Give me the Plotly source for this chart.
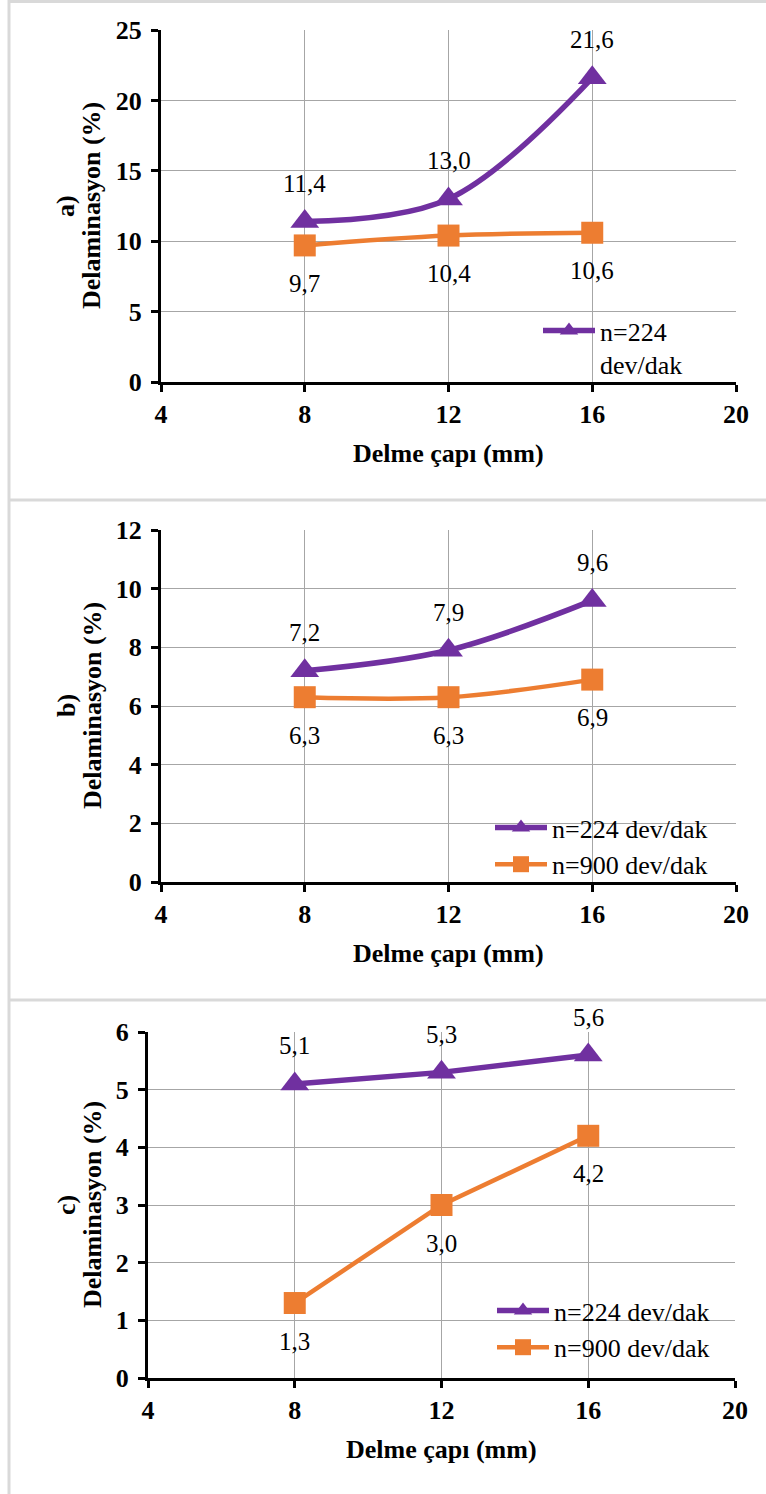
import plotly.graph_objects as go

# ---------------- data ----------------
diameters = [8, 12, 16]
x_ticks = [4, 8, 12, 16, 20]

a_224 = [11.4, 13.0, 21.6]
a_900 = [9.7, 10.4, 10.6]
b_224 = [7.2, 7.9, 9.6]
b_900 = [6.3, 6.3, 6.9]
c_224 = [5.1, 5.3, 5.6]
c_900 = [1.3, 3.0, 4.2]

name_224 = "n=224 dev/dak"
name_900 = "n=900 dev/dak"
panel_tags = ["a)", "b)", "c)"]
y_title = "Delaminasyon (%)"
x_title = "Delme çapı (mm)"

PURPLE = "#7030A0"
ORANGE = "#ED7D31"
FONT = "Liberation Serif, Times New Roman, serif"
W, H = 766, 1494


def px_x(p):
    return p / W


def px_y(p):
    return 1 - p / H


# plot areas in pixels: (left, right, top, bottom)
areas = [
    (161, 736, 30, 382),
    (161, 736, 530, 882),
    (148, 735, 1032, 1378),
]
yranges = [(0, 25, 5), (0, 12, 2), (0, 6, 1)]
panels = [
    (a_224, a_900, "spline", False, "legend"),
    (b_224, b_900, "spline", True, "legend2"),
    (c_224, c_900, "linear", True, "legend3"),
]

fig = go.Figure()
annotations = []

for i, ((s224, s900, shape, show900, leg), (l, r, t, b), (y0, y1, dy)) in enumerate(
        zip(panels, areas, yranges)):
    n = "" if i == 0 else str(i + 1)
    xa, ya = "x" + n, "y" + n
    label224 = "n=224<br>dev/dak" if i == 0 else name_224
    fig.add_trace(go.Scatter(
        x=diameters, y=s224, mode="lines+markers", name=label224,
        line=dict(color=PURPLE, width=5.5, shape=shape),
        marker=dict(symbol="triangle-up", size=25, color=PURPLE),
        xaxis=xa, yaxis=ya, legend=leg, legendgroup=f"g{i}a",
    ))
    fig.add_trace(go.Scatter(
        x=diameters, y=s900, mode="lines+markers", name=name_900,
        line=dict(color=ORANGE, width=4.5, shape=shape),
        marker=dict(symbol="square", size=22, color=ORANGE),
        xaxis=xa, yaxis=ya, legend=leg, showlegend=show900, legendgroup=f"g{i}b",
    ))
    for xv, v in zip(diameters, s224):
        annotations.append(dict(x=xv, y=v, xref=xa, yref=ya, text=f"{v:.1f}".replace(".", ","),
                                showarrow=False, yshift=38, xanchor="center", yanchor="middle",
                                font=dict(family=FONT, size=25, color="black")))
    for xv, v in zip(diameters, s900):
        annotations.append(dict(x=xv, y=v, xref=xa, yref=ya, text=f"{v:.1f}".replace(".", ","),
                                showarrow=False, yshift=-38, xanchor="center", yanchor="middle",
                                font=dict(family=FONT, size=25, color="black")))

    axis_common = dict(
        showline=True, linecolor="black", linewidth=3,
        ticks="outside", ticklen=7, tickwidth=2.5, tickcolor="black",
        showgrid=True, gridcolor="#a6a6a6", gridwidth=1, zeroline=False,
        automargin=False,
        tickfont=dict(family=FONT, size=26, color="black", weight="bold"),
    )
    fig.update_layout(**{
        ("xaxis" + n): dict(domain=[px_x(l), px_x(r)], range=[4, 20], tickvals=x_ticks,
                            anchor=ya, ticklabelstandoff=0, **axis_common),
        ("yaxis" + n): dict(domain=[px_y(b), px_y(t)], range=[y0, y1], dtick=dy,
                            anchor=xa, ticklabelstandoff=4, **axis_common),
    })
    cy = (t + b) / 2
    title_font = dict(family=FONT, size=26, color="black", weight="bold")
    annotations.append(dict(x=px_x(66), y=px_y(cy), xref="paper", yref="paper",
                            text=panel_tags[i], textangle=-90, showarrow=False,
                            xanchor="center", yanchor="middle", font=title_font))
    annotations.append(dict(x=px_x(92), y=px_y(cy), xref="paper", yref="paper",
                            text=y_title, textangle=-90, showarrow=False,
                            xanchor="center", yanchor="middle", font=title_font))
    annotations.append(dict(x=px_x((l + r) / 2), y=px_y(b + 71), xref="paper", yref="paper",
                            text=x_title, showarrow=False,
                            xanchor="center", yanchor="middle", font=title_font))

legend_style = dict(bgcolor="rgba(0,0,0,0)", font=dict(family=FONT, size=26, color="black"),
                    itemwidth=52, xanchor="left", yanchor="top", tracegroupgap=0)
fig.update_layout(
    legend=dict(x=px_x(538), y=px_y(307), valign="top", **legend_style),
    legend2=dict(x=px_x(490), y=px_y(804), **legend_style),
    legend3=dict(x=px_x(492), y=px_y(1287), **legend_style),
)

# panel borders
shapes = []
border = dict(type="line", xref="paper", yref="paper", line=dict(color="#d9d9d9", width=3))
shapes.append(dict(x0=px_x(9), x1=px_x(9), y0=0, y1=1, **border))
for yy in [1.5, 500, 1000]:
    shapes.append(dict(x0=px_x(9), x1=1, y0=px_y(yy), y1=px_y(yy), **border))

fig.update_layout(
    width=W, height=H, margin=dict(l=0, r=0, t=0, b=0, autoexpand=False),
    paper_bgcolor="white", plot_bgcolor="white",
    annotations=annotations, shapes=shapes, showlegend=True,
)

fig.write_html("out.html")
